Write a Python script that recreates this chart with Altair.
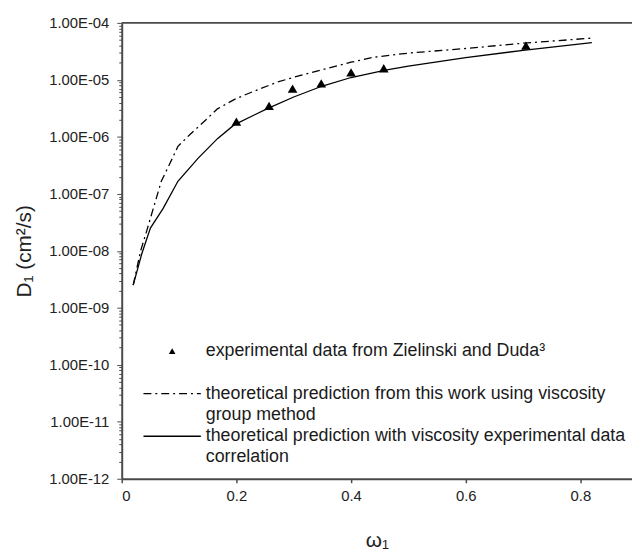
import altair as alt
import pandas as pd

# --- data ---
x_solid = [0.02, 0.035, 0.05, 0.072, 0.098, 0.133, 0.167, 0.196, 0.253, 0.30, 0.35,
           0.40, 0.46, 0.50, 0.60, 0.70, 0.82]
d_solid = [2.5e-9, 8.9e-9, 2.5e-8, 5.5e-8, 1.66e-7, 4.2e-7, 9.3e-7, 1.62e-6, 3.1e-6, 5.0e-6,
           7.8e-6, 1.1e-5, 1.48e-5, 1.74e-5, 2.45e-5, 3.3e-5, 4.5e-5]

x_dash = [0.02, 0.033, 0.045, 0.055, 0.069, 0.084, 0.098, 0.119, 0.147, 0.167, 0.196,
          0.214, 0.24, 0.271, 0.30, 0.35, 0.40, 0.44, 0.50, 0.60, 0.70, 0.82]
d_dash = [2.5e-9, 1.0e-8, 2.5e-8, 5.5e-8, 1.66e-7, 3.4e-7, 6.8e-7, 1.1e-6, 2.0e-6, 3.1e-6,
          4.5e-6, 5.4e-6, 6.9e-6, 9.1e-6, 1.11e-5, 1.51e-5, 2.04e-5, 2.5e-5, 2.95e-5,
          3.55e-5, 4.4e-5, 5.4e-5]

x_exp = [0.20, 0.257, 0.298, 0.348, 0.40, 0.457, 0.705]
d_exp = [1.85e-6, 3.5e-6, 7.0e-6, 8.7e-6, 1.35e-5, 1.6e-5, 4.0e-5]

x_ticks = [0, 0.2, 0.4, 0.6, 0.8]
decades = [1e-12, 1e-11, 1e-10, 1e-9, 1e-8, 1e-7, 1e-6, 1e-5, 1e-4]
y_ticks = sorted(set(decades + [m * d for d in decades[:-1] for m in range(2, 10)]))

legend_labels = [
    "experimental data from Zielinski and Duda³",
    "theoretical prediction from this work using viscosity",
    "group method",
    "theoretical prediction with viscosity experimental data",
    "correlation",
]

FONT = "Liberation Sans"
AX = "#4a4a4a"
W, H = 516, 461

is_dec = "abs(log(datum.value)/LN10 - round(log(datum.value)/LN10)) < 1e-6"
lab_expr = ("(" + is_dec + ") ? '1.00E-' + (round(-log(datum.value)/LN10) < 10 ? '0' : '') + "
            "round(-log(datum.value)/LN10) : ''")

xscale = alt.Scale(domain=[0, 0.89], nice=False, zero=False)
yscale = alt.Scale(type="log", domain=[1e-12, 1e-4], nice=False)

xaxis = alt.Axis(values=x_ticks, format="~g", title="ω₁", grid=False,
                 domainColor=AX, domainWidth=2, tickColor=AX, tickSize=4, tickWidth=1.5,
                 labelFont=FONT, labelFontSize=15, labelColor="#222", labelPadding=6,
                 titleFont=FONT, titleFontSize=21, titleFontWeight="normal", titleColor="#222",
                 titlePadding=27)
yaxis = alt.Axis(values=y_ticks, labelExpr=lab_expr, title="D₁ (cm²/s)", grid=False,
                 labelOverlap=False, domainColor=AX, domainWidth=2, tickColor=AX,
                 tickSize={"condition": {"test": is_dec, "value": 5}, "value": 3},
                 tickWidth=1, labelFont=FONT, labelFontSize=15, labelColor="#222",
                 labelPadding=8, titleFont=FONT, titleFontSize=21,
                 titleFontWeight="normal", titleColor="#222", titlePadding=14)

solid_df = pd.DataFrame({"x": x_solid, "d": d_solid})
dash_df = pd.DataFrame({"x": x_dash, "d": d_dash})
exp_df = pd.DataFrame({"x": x_exp, "d": d_exp})

solid = alt.Chart(solid_df).mark_line(color="black", strokeWidth=1.3).encode(
    x=alt.X("x:Q", scale=xscale, axis=xaxis),
    y=alt.Y("d:Q", scale=yscale, axis=yaxis),
)
dash = alt.Chart(dash_df).mark_line(color="black", strokeWidth=1.3,
                                    strokeDash=[8, 4, 2, 4]).encode(
    x=alt.X("x:Q", scale=xscale),
    y=alt.Y("d:Q", scale=yscale),
)
pts = alt.Chart(exp_df).mark_point(shape="triangle-up", filled=True, color="black",
                                   size=95, opacity=1).encode(
    x=alt.X("x:Q", scale=xscale),
    y=alt.Y("d:Q", scale=yscale),
)
top = alt.Chart(pd.DataFrame({"d": [1e-4]})).mark_rule(color=AX, strokeWidth=2).encode(
    y=alt.Y("d:Q", scale=yscale)
)

one = pd.DataFrame({"a": [0]})
leg_tri = alt.Chart(one).mark_point(shape="triangle-up", filled=True, color="black",
                                    size=45, opacity=1).encode(
    x=alt.value(51), y=alt.value(332))
leg_dash = alt.Chart(one).mark_rule(color="black", strokeWidth=1.3,
                                    strokeDash=[8, 4, 2, 4]).encode(
    x=alt.value(22), x2=alt.value(80), y=alt.value(375))
leg_solid = alt.Chart(one).mark_rule(color="black", strokeWidth=1.3).encode(
    x=alt.value(22), x2=alt.value(80), y=alt.value(418))

text_y = [332, 375, 397, 418, 439]
texts = [
    alt.Chart(one).mark_text(align="left", baseline="middle", font=FONT, fontSize=18,
                             color="#1a1a1a").encode(
        x=alt.value(85), y=alt.value(ty), text=alt.value(lbl))
    for lbl, ty in zip(legend_labels, text_y)
]

chart = alt.layer(top, dash, solid, pts, leg_tri, leg_dash, leg_solid, *texts).properties(
    width=W, height=H,
    autosize=alt.AutoSizeParams(type="none"),
    padding={"left": 115, "top": 12, "right": 0, "bottom": 70},
    background="white",
).configure_view(stroke=None)

chart.save("out.html", embed_options={"renderer": "svg", "actions": False})
